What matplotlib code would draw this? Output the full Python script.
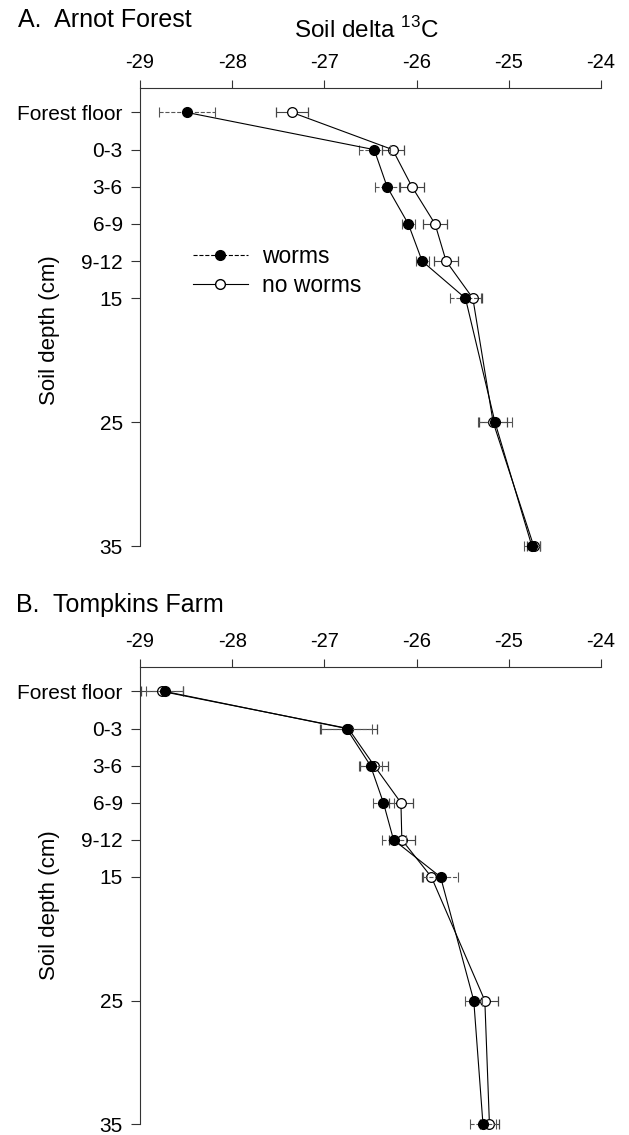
import matplotlib
matplotlib.use("Agg")
import matplotlib.pyplot as plt
from matplotlib.lines import Line2D

plt.rcParams["font.family"] = ["Liberation Sans", "DejaVu Sans"]
plt.rcParams["mathtext.fontset"] = "custom"
plt.rcParams["mathtext.rm"] = "Liberation Sans"

# depth positions (cm) and their labels
depths = [0, 3, 6, 9, 12, 15, 25, 35]
depth_labels = ["Forest floor", "0-3", "3-6", "6-9", "9-12", "15", "25", "35"]
x_ticks = [-29, -28, -27, -26, -25, -24]

# A. Arnot Forest
arnot_worms = [-28.49, -26.46, -26.32, -26.09, -25.94, -25.47, -25.15, -24.75]
arnot_worms_err = [0.30, 0.17, 0.13, 0.07, 0.07, 0.17, 0.18, 0.09]
arnot_noworms = [-27.35, -26.26, -26.05, -25.80, -25.68, -25.39, -25.17, -24.73]
arnot_noworms_err = [0.17, 0.12, 0.13, 0.13, 0.13, 0.10, 0.15, 0.07]

# B. Tompkins Farm
tompkins_worms = [-28.73, -26.76, -26.50, -26.36, -26.25, -25.74, -25.38, -25.28]
tompkins_worms_err = [0.20, 0.28, 0.13, 0.11, 0.13, 0.19, 0.09, 0.14]
tompkins_noworms = [-28.76, -26.74, -26.46, -26.17, -26.16, -25.84, -25.26, -25.21]
tompkins_noworms_err = [0.23, 0.31, 0.15, 0.13, 0.14, 0.10, 0.14, 0.10]

W, H = 629, 1135
fig = plt.figure(figsize=(W / 100, H / 100), dpi=100)


def _panel(rect, worms, worms_err, noworms, noworms_err):
    ax = fig.add_axes(rect)
    ax.errorbar(noworms, depths, xerr=noworms_err, color="black", lw=0.8,
                marker="o", ms=7, mfc="white", mec="black", mew=0.9,
                ecolor="#444444", elinewidth=0.8, capsize=3.5, capthick=0.8,
                zorder=3)
    eb = ax.errorbar(worms, depths, xerr=worms_err, color="black", lw=0.8,
                     marker="o", ms=7, mfc="black", mec="black",
                     ecolor="#555555", elinewidth=0.8, capsize=3.5, capthick=0.8,
                     zorder=4)
    eb[2][0].set_linestyle("--")
    for art in ax.get_children():
        try:
            art.set_clip_on(False)
        except Exception:
            pass
    ax.set_xlim(-29, -24)
    ax.set_ylim(35, -2)
    ax.set_xticks(x_ticks)
    ax.set_xticklabels([str(t) for t in x_ticks])
    ax.set_yticks(depths)
    ax.set_yticklabels(depth_labels)
    ax.xaxis.tick_top()
    ax.spines["right"].set_visible(False)
    ax.spines["bottom"].set_visible(False)
    for s in ("top", "left"):
        ax.spines[s].set_linewidth(0.8)
        ax.spines[s].set_color("#333333")
    ax.tick_params(axis="x", direction="out", length=5.5, width=0.8, pad=6,
                   labelsize=14.5, color="#333333")
    ax.tick_params(axis="y", direction="out", length=6.5, width=0.8, pad=6,
                   labelsize=15, color="#333333")
    return ax


left = 140 / W
width = 461 / W
ax_a = _panel([left, 1 - 546 / H, width, (546 - 87.7) / H],
              arnot_worms, arnot_worms_err, arnot_noworms, arnot_noworms_err)
ax_b = _panel([left, 1 - 1124.3 / H, width, (1124.3 - 666.7) / H],
              tompkins_worms, tompkins_worms_err, tompkins_noworms, tompkins_noworms_err)

handles = [
    Line2D([], [], color="black", lw=0.8, ls="--", marker="o", ms=7, mfc="black", mec="black"),
    Line2D([], [], color="black", lw=0.8, ls="-", marker="o", ms=7, mfc="white", mec="black"),
]
ax_a.legend(handles, ["worms", "no worms"], loc="center left",
            bbox_to_anchor=(0.09, 0.60), frameon=False, fontsize=16.5,
            handlelength=2.4, handletextpad=0.6, labelspacing=0.3, borderpad=0)

fig.text(18 / W, 1 - 20 / H, "A.  Arnot Forest", fontsize=18, ha="left", va="center")
fig.text(366 / W, 1 - 30 / H, "Soil delta $^{13}$C", fontsize=17.5, ha="center", va="center")
fig.text(16 / W, 1 - 605 / H, "B.  Tompkins Farm", fontsize=18, ha="left", va="center")
fig.text(50 / W, 1 - 330 / H, "Soil depth (cm)", fontsize=16, rotation=90,
         ha="center", va="center")
fig.text(50 / W, 1 - 905 / H, "Soil depth (cm)", fontsize=16, rotation=90,
         ha="center", va="center")

fig.savefig("out.png", dpi=100)
